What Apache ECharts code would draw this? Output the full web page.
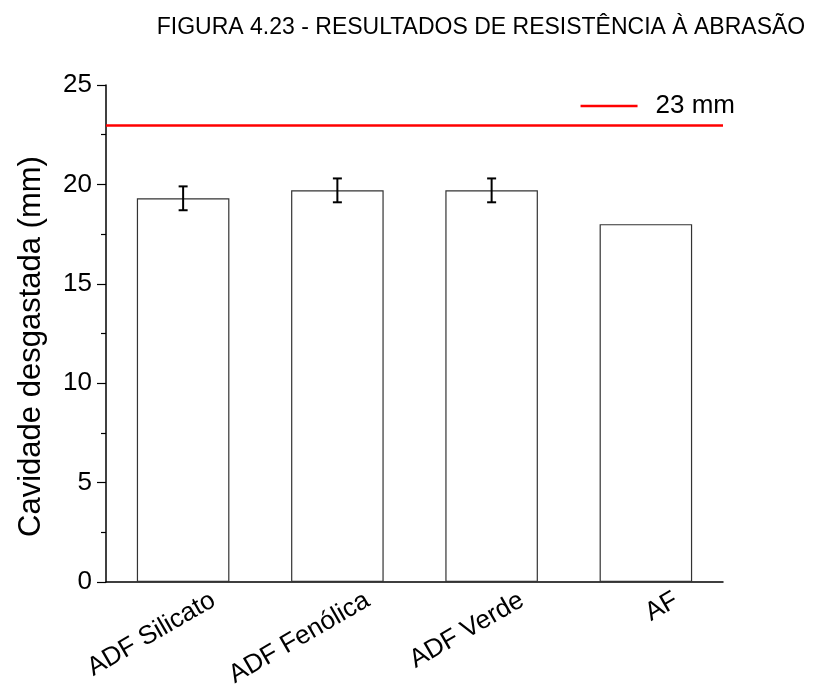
<!DOCTYPE html>
<html>
<head>
<meta charset="utf-8">
<script src="https://cdn.jsdelivr.net/npm/echarts@6/dist/echarts.min.js"></script>
<style>html,body{margin:0;padding:0;background:#fff}#c{width:824px;height:690px}</style>
</head>
<body>
<div id="c"></div>
<script>
const categories = ['ADF Silicato', 'ADF Fenólica', 'ADF Verde', 'AF'];
const values = [19.3, 19.7, 19.7, 18.0];
const errors = [0.6, 0.6, 0.6, null];
const limitValue = 23;
const limitName = '23 mm';
const yTicks = [0, 5, 10, 15, 20, 25];

const chart = echarts.init(document.getElementById('c'), null, {renderer: 'canvas'});
const font = 'Liberation Sans, Arial, sans-serif';
const errData = categories.map((c, i) => errors[i] == null ? null : [i, values[i] - errors[i], values[i] + errors[i]]).filter(d => d);

chart.setOption({
  animation: false,
  backgroundColor: '#fff',
  title: {
    text: 'FIGURA 4.23 - RESULTADOS DE RESISTÊNCIA À ABRASÃO',
    left: 476, top: 11, textAlign: 'center',
    textStyle: {fontFamily: font, fontSize: 23, fontWeight: 'normal', color: '#000'}
  },
  legend: {
    right: 84, top: 88,
    icon: 'rect', itemWidth: 57, itemHeight: 2.5, itemGap: 10,
    textStyle: {fontFamily: font, fontSize: 26, color: '#000', padding: [0, 0, 0, 13]},
    data: [{name: limitName, itemStyle: {color: '#ff0000'}}]
  },
  grid: {left: 106, right: 101, top: 85, bottom: 103, containLabel: false},
  xAxis: [{
    type: 'category', data: categories, boundaryGap: true,
    axisLine: {lineStyle: {color: '#000', width: 1.5}},
    axisTick: {inside: true, length: 3, lineStyle: {color: '#000'}},
    axisLabel: {
      interval: 0, rotate: 30, fontFamily: font, fontSize: 26, color: '#000', margin: 34,
      align: 'right', verticalAlign: 'middle', padding: [0, -35, 0, 0]
    }
  }, {
    type: 'category', data: categories, boundaryGap: true, position: 'bottom',
    axisLine: {show: false},
    axisTick: {show: true, inside: true, length: 3, alignWithLabel: true, lineStyle: {color: '#000'}},
    axisLabel: {show: false}
  }],
  yAxis: {
    type: 'value', min: 0, max: 25, interval: 5,
    name: 'Cavidade desgastada (mm)', nameLocation: 'middle', nameGap: 59,
    nameTextStyle: {fontFamily: font, fontSize: 31, color: '#000', padding: [0, 26, 0, 0]},
    axisLine: {show: true, lineStyle: {color: '#000', width: 1.5}},
    axisTick: {show: true, length: 9, lineStyle: {color: '#000', width: 1.2}},
    minorTick: {show: true, splitNumber: 2, length: 5, lineStyle: {color: '#000', width: 1.2}},
    splitLine: {show: false},
    axisLabel: {fontFamily: font, fontSize: 26, color: '#000', margin: 14,
      formatter: v => yTicks.includes(v) ? String(v) : ''}
  },
  series: [{
    type: 'bar', data: values, barWidth: '60%',
    itemStyle: {color: '#fff', borderColor: '#333', borderWidth: 1.2},
    silent: true
  }, {
    type: 'custom', data: errData, z: 5,
    renderItem: function (params, api) {
      const x = api.value(0);
      const lo = api.coord([x, api.value(1)]);
      const hi = api.coord([x, api.value(2)]);
      const hw = 4.5;
      const st = {stroke: '#000', lineWidth: 2};
      return {type: 'group', children: [
        {type: 'line', shape: {x1: lo[0], y1: lo[1], x2: hi[0], y2: hi[1]}, style: st},
        {type: 'line', shape: {x1: lo[0] - hw, y1: lo[1], x2: lo[0] + hw, y2: lo[1]}, style: st},
        {type: 'line', shape: {x1: hi[0] - hw, y1: hi[1], x2: hi[0] + hw, y2: hi[1]}, style: st}
      ]};
    }
  }, {
    type: 'line', name: limitName, data: [], symbol: 'none',
    itemStyle: {color: '#ff0000'}, lineStyle: {color: '#ff0000'},
    markLine: {
      silent: true, symbol: 'none', label: {show: false},
      lineStyle: {color: '#ff0000', width: 2.5, type: 'solid'},
      data: [{yAxis: limitValue}]
    }
  }]
});
</script>
</body>
</html>
